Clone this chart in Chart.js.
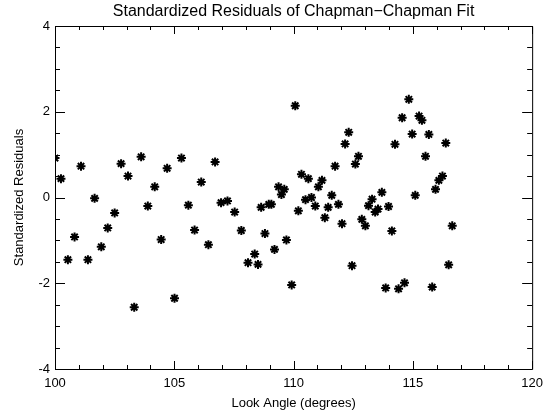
<!DOCTYPE html>
<html>
<head>
<meta charset="utf-8">
<script src="https://cdn.jsdelivr.net/npm/chart.js@4/dist/chart.umd.min.js"></script>
<style>
  html, body { margin: 0; padding: 0; background: #fff; }
  #wrap { width: 550px; height: 411px; }
</style>
</head>
<body>
<div id="wrap"><canvas id="residChart"></canvas></div>
<script>
const lookAngle = [
  100.00, 100.25, 100.54, 100.82, 101.09, 101.38, 101.66, 101.94, 102.21, 102.50,
  102.77, 103.06, 103.32, 103.61, 103.89, 104.18, 104.45, 104.70, 105.01, 105.30,
  105.59, 105.85, 106.13, 106.43, 106.71, 106.96, 107.23, 107.53, 107.81, 108.09,
  108.37, 108.51, 108.64, 108.80, 108.96, 109.07, 109.20, 109.37, 109.49, 109.61,
  109.70, 109.92, 110.07, 110.20, 110.33, 110.50, 110.62, 110.75, 110.91, 111.04,
  111.19, 111.31, 111.45, 111.60, 111.74, 111.88, 112.03, 112.16, 112.31, 112.45,
  112.59, 112.72, 112.86, 113.01, 113.14, 113.29, 113.42, 113.54, 113.70, 113.86,
  113.98, 114.12, 114.25, 114.40, 114.55, 114.65, 114.83, 114.97, 115.10, 115.26,
  115.38, 115.53, 115.67, 115.81, 115.95, 116.09, 116.24, 116.38, 116.50, 116.65,
];
const residuals = [
  0.92, 0.44, -1.45, -0.92, 0.73, -1.45, -0.02, -1.15, -0.71, -0.36,
  0.79, 0.50, -2.56, 0.95, -0.20, 0.25, -0.98, 0.68, -2.35, 0.92,
  -0.18, -0.76, 0.36, -1.10, 0.83, -0.12, -0.08, -0.34, -0.77, -1.52,
  -1.32, -1.56, -0.23, -0.84, -0.16, -0.16, -1.21, 0.25, 0.07, 0.19,
  -0.99, -2.04, 2.14, -0.31, 0.54, -0.05, 0.44, 0.00, -0.20, 0.25,
  0.40, -0.47, -0.23, 0.05, 0.73, -0.16, -0.61, 1.25, 1.52, -1.59,
  0.78, 0.96, -0.51, -0.66, -0.19, -0.04, -0.34, -0.27, 0.12, -2.11,
  -0.21, -0.78, 1.24, -2.13, 1.86, -1.99, 2.29, 1.48, 0.05, 1.90,
  1.80, 0.96, 1.47, -2.09, 0.19, 0.40, 0.50, 1.27, -1.57, -0.66,
];

const chartTitle = "Standardized Residuals of Chapman\u2212Chapman Fit";
const xRange = [100, 120];
const yRange = [-4, 4];
const xMajor = 5, xMinor = 1;
const yMajor = 2, yMinor = 0.5;

const font = "'Liberation Sans', Arial, sans-serif";

// box with inward ticks on all four sides, IDL style, plus the title centred on the plot
const boxTicks = {
  id: "boxTicks",
  afterDraw(chart) {
    const { ctx, chartArea: a, scales } = chart;
    const xs = scales.x, ys = scales.y;
    ctx.save();
    ctx.strokeStyle = "#000";
    ctx.lineWidth = 1;
    ctx.beginPath();
    ctx.rect(a.left + 0.5, a.top + 0.5, a.right - a.left, a.bottom - a.top);
    for (let v = xRange[0]; v <= xRange[1] + 1e-9; v += xMinor) {
      const px = Math.round(xs.getPixelForValue(v)) + 0.5;
      const len = Math.abs(v % xMajor) < 1e-9 ? 8 : 4;
      ctx.moveTo(px, a.bottom);
      ctx.lineTo(px, a.bottom - len);
      ctx.moveTo(px, a.top);
      ctx.lineTo(px, a.top + len);
    }
    for (let v = yRange[0]; v <= yRange[1] + 1e-9; v += yMinor) {
      const py = Math.round(ys.getPixelForValue(v)) + 0.5;
      const len = Math.abs(v % yMajor) < 1e-9 ? 10 : 5;
      ctx.moveTo(a.left, py);
      ctx.lineTo(a.left + len, py);
      ctx.moveTo(a.right, py);
      ctx.lineTo(a.right - len, py);
    }
    ctx.stroke();

    ctx.fillStyle = "#000";
    ctx.font = "16px " + font;
    ctx.textAlign = "center";
    ctx.textBaseline = "middle";
    ctx.fillText(chartTitle, (a.left + a.right) / 2, 12);
    ctx.restore();
  },
};

const ctx = document.getElementById("residChart").getContext("2d");
new Chart(ctx, {
  type: "scatter",
  data: {
    datasets: [
      {
        label: "Residuals",
        data: lookAngle.map((x, i) => ({ x, y: residuals[i] })),
        pointStyle: "star",
        pointRadius: 4.5,
        pointBorderWidth: 2,
        borderColor: "#000",
        backgroundColor: "#000",
      },
    ],
  },
  options: {
    responsive: true,
    maintainAspectRatio: false,
    animation: false,
    layout: { padding: { top: 26, right: 13 } },
    plugins: {
      legend: { display: false },
      tooltip: { enabled: false },
    },
    scales: {
      x: {
        type: "linear",
        min: xRange[0],
        max: xRange[1],
        afterFit: (s) => { s.height = 42; },
        grid: { display: false, drawTicks: false },
        border: { display: false },
        ticks: {
          stepSize: xMajor,
          color: "#000",
          padding: 7,
          maxRotation: 0,
          font: { family: font, size: 13 },
        },
        title: {
          display: true,
          text: "Look Angle (degrees)",
          color: "#000",
          font: { family: font, size: 13 },
          padding: { top: 0, bottom: 0 },
        },
      },
      y: {
        type: "linear",
        min: yRange[0],
        max: yRange[1],
        afterFit: (s) => { s.width = 55; },
        grid: { display: false, drawTicks: false },
        border: { display: false },
        ticks: {
          stepSize: yMajor,
          color: "#000",
          padding: 5,
          font: { family: font, size: 13 },
        },
        title: {
          display: true,
          text: "Standardized Residuals",
          color: "#000",
          font: { family: font, size: 13 },
          padding: { top: 12, bottom: 0 },
        },
      },
    },
  },
  plugins: [boxTicks],
});
</script>
</body>
</html>
